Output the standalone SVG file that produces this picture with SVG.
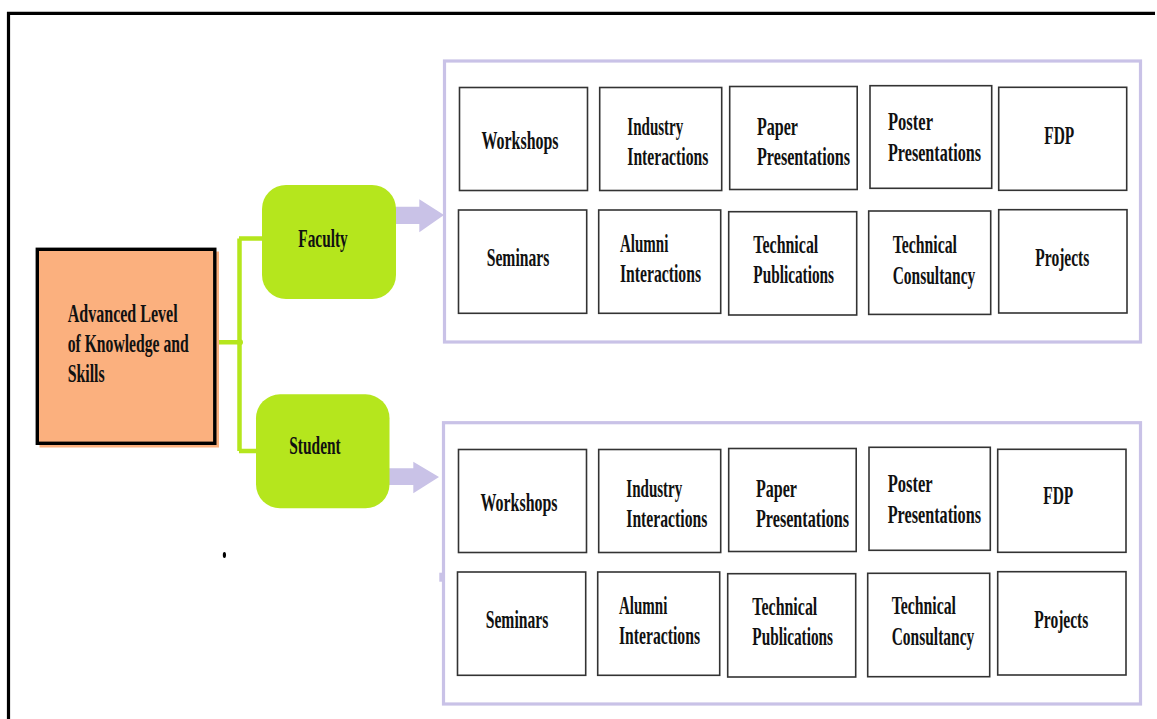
<svg xmlns="http://www.w3.org/2000/svg" width="1157" height="719" viewBox="0 0 1157 719">
<style>
text{font-family:"Liberation Serif","Times New Roman",serif;font-weight:bold;font-size:25px;fill:#111}
.box{fill:#fff;stroke:#333;stroke-width:1.6}
.panel{fill:#fff;stroke:#c9c2e7;stroke-width:3.2}
.cat{fill:#b5e61d}
.link{fill:none;stroke:#b5e61d;stroke-width:4.5}
.arrow{fill:#c9c2e7}
</style>
<rect width="1157" height="719" fill="#fff"/>
<!-- outer frame -->
<path d="M8.5 719 V13.3 H1155" fill="none" stroke="#000" stroke-width="3.2"/>

<g id="connectors">
<path class="link" d="M217 342.3 H239.5 M239.5 238.5 V451 M239 238.5 H264 M239 451 H258"/>
<circle cx="240" cy="342.3" r="3" fill="#b5e61d"/>
<path class="arrow" d="M390 206.7 H419.3 V199.3 L444 215 L419.3 232.3 V224 H390 Z"/>
<path class="arrow" d="M385 468.3 H413.3 V461.7 L439 477 L413.3 493.3 V485 H385 Z"/>
<rect class="arrow" x="439.3" y="572.7" width="4" height="9"/>
</g>

<g id="root">
<rect x="39.5" y="251.5" width="179.5" height="196" fill="#fbb07e"/>
<rect x="37.3" y="249.3" width="177.5" height="194" fill="#fbb07e" stroke="#000" stroke-width="3.4"/>
<text x="67.7" y="321.7" textLength="110" lengthAdjust="spacingAndGlyphs" font-size="25">Advanced Level</text>
<text x="67.7" y="351.7" textLength="121" lengthAdjust="spacingAndGlyphs" font-size="25">of Knowledge and</text>
<text x="67.7" y="382.3" textLength="37" lengthAdjust="spacingAndGlyphs" font-size="25">Skills</text>
</g>

<g id="faculty">
<rect class="cat" x="262" y="185" width="134" height="114" rx="24"/>
<text x="298.3" y="247.3" textLength="49.4" lengthAdjust="spacingAndGlyphs" font-size="26">Faculty</text>
</g>
<g id="student">
<rect class="cat" x="256" y="394.3" width="133.5" height="114" rx="24"/>
<text x="289.3" y="454" textLength="51.4" lengthAdjust="spacingAndGlyphs" font-size="26">Student</text>
</g>

<ellipse cx="224.4" cy="555" rx="1.6" ry="3" fill="#000"/>

<!-- Faculty panel -->
<g id="faculty-panel">
<rect class="panel" x="444.5" y="61" width="696" height="281"/>
<g id="f-workshops"><rect class="box" x="459.5" y="87.5" width="128" height="103"/>
<text x="481.5" y="149" textLength="77" lengthAdjust="spacingAndGlyphs" font-size="26">Workshops</text></g>
<g id="f-industry"><rect class="box" x="599.7" y="87.5" width="122" height="103"/>
<text x="627.3" y="135" textLength="56" lengthAdjust="spacingAndGlyphs">Industry</text>
<text x="627.3" y="165" textLength="81" lengthAdjust="spacingAndGlyphs">Interactions</text></g>
<g id="f-paper"><rect class="box" x="729.7" y="86.5" width="127.5" height="103"/>
<text x="757" y="134.5" textLength="41" lengthAdjust="spacingAndGlyphs">Paper</text>
<text x="757" y="165" textLength="93" lengthAdjust="spacingAndGlyphs">Presentations</text></g>
<g id="f-poster"><rect class="box" x="870" y="85.7" width="121.7" height="102.6"/>
<text x="888" y="130" textLength="45" lengthAdjust="spacingAndGlyphs">Poster</text>
<text x="888" y="160.5" textLength="93" lengthAdjust="spacingAndGlyphs">Presentations</text></g>
<g id="f-fdp"><rect class="box" x="998.7" y="87.3" width="128" height="103"/>
<text x="1044.3" y="144" textLength="30" lengthAdjust="spacingAndGlyphs" font-size="26">FDP</text></g>
<g id="f-seminars"><rect class="box" x="458.5" y="210" width="128.2" height="103.3"/>
<text x="486.7" y="266" textLength="62.6" lengthAdjust="spacingAndGlyphs" font-size="26">Seminars</text></g>
<g id="f-alumni"><rect class="box" x="598.7" y="210" width="122" height="103.3"/>
<text x="620" y="251.7" textLength="48.3" lengthAdjust="spacingAndGlyphs">Alumni</text>
<text x="620" y="282" textLength="81" lengthAdjust="spacingAndGlyphs">Interactions</text></g>
<g id="f-techpub"><rect class="box" x="728.7" y="211.7" width="128" height="103.3"/>
<text x="753.3" y="252.7" textLength="65" lengthAdjust="spacingAndGlyphs">Technical</text>
<text x="753.3" y="283.3" textLength="80.7" lengthAdjust="spacingAndGlyphs">Publications</text></g>
<g id="f-techcons"><rect class="box" x="868.7" y="211" width="122" height="103.4"/>
<text x="892.7" y="253" textLength="64.3" lengthAdjust="spacingAndGlyphs">Technical</text>
<text x="892.7" y="284" textLength="82.6" lengthAdjust="spacingAndGlyphs">Consultancy</text></g>
<g id="f-projects"><rect class="box" x="998.7" y="209.7" width="128.3" height="103.3"/>
<text x="1035.3" y="266" textLength="54" lengthAdjust="spacingAndGlyphs" font-size="26">Projects</text></g>
</g>

<!-- Student panel -->
<g id="student-panel">
<rect class="panel" x="443.5" y="422.7" width="697" height="281.3"/>
<g id="s-workshops"><rect class="box" x="458.5" y="449.5" width="128" height="103"/>
<text x="480.5" y="511" textLength="77" lengthAdjust="spacingAndGlyphs" font-size="26">Workshops</text></g>
<g id="s-industry"><rect class="box" x="598.7" y="449.5" width="122" height="103"/>
<text x="626.3" y="497" textLength="56" lengthAdjust="spacingAndGlyphs">Industry</text>
<text x="626.3" y="527" textLength="81" lengthAdjust="spacingAndGlyphs">Interactions</text></g>
<g id="s-paper"><rect class="box" x="728.7" y="448.5" width="127.5" height="103"/>
<text x="756" y="496.5" textLength="41" lengthAdjust="spacingAndGlyphs">Paper</text>
<text x="756" y="527" textLength="93" lengthAdjust="spacingAndGlyphs">Presentations</text></g>
<g id="s-poster"><rect class="box" x="869" y="447.3" width="121.3" height="103"/>
<text x="887.7" y="491.7" textLength="45" lengthAdjust="spacingAndGlyphs">Poster</text>
<text x="887.7" y="522.7" textLength="93.3" lengthAdjust="spacingAndGlyphs">Presentations</text></g>
<g id="s-fdp"><rect class="box" x="997.7" y="449.3" width="128.3" height="103"/>
<text x="1043.3" y="504" textLength="30" lengthAdjust="spacingAndGlyphs" font-size="26">FDP</text></g>
<g id="s-seminars"><rect class="box" x="457.5" y="572" width="128.2" height="103.3"/>
<text x="485.7" y="628" textLength="62.6" lengthAdjust="spacingAndGlyphs" font-size="26">Seminars</text></g>
<g id="s-alumni"><rect class="box" x="597.7" y="572" width="122" height="103.3"/>
<text x="619" y="613.7" textLength="48.3" lengthAdjust="spacingAndGlyphs">Alumni</text>
<text x="619" y="644" textLength="81" lengthAdjust="spacingAndGlyphs">Interactions</text></g>
<g id="s-techpub"><rect class="box" x="727.7" y="573.7" width="128" height="103.3"/>
<text x="752.3" y="614.7" textLength="65" lengthAdjust="spacingAndGlyphs">Technical</text>
<text x="752.3" y="645.3" textLength="80.7" lengthAdjust="spacingAndGlyphs">Publications</text></g>
<g id="s-techcons"><rect class="box" x="867.7" y="573.3" width="122" height="103.4"/>
<text x="891.7" y="614" textLength="64.3" lengthAdjust="spacingAndGlyphs">Technical</text>
<text x="891.7" y="645" textLength="82.6" lengthAdjust="spacingAndGlyphs">Consultancy</text></g>
<g id="s-projects"><rect class="box" x="997.7" y="571.7" width="128.3" height="103.3"/>
<text x="1034.3" y="627.7" textLength="54" lengthAdjust="spacingAndGlyphs" font-size="26">Projects</text></g>
</g>
</svg>
